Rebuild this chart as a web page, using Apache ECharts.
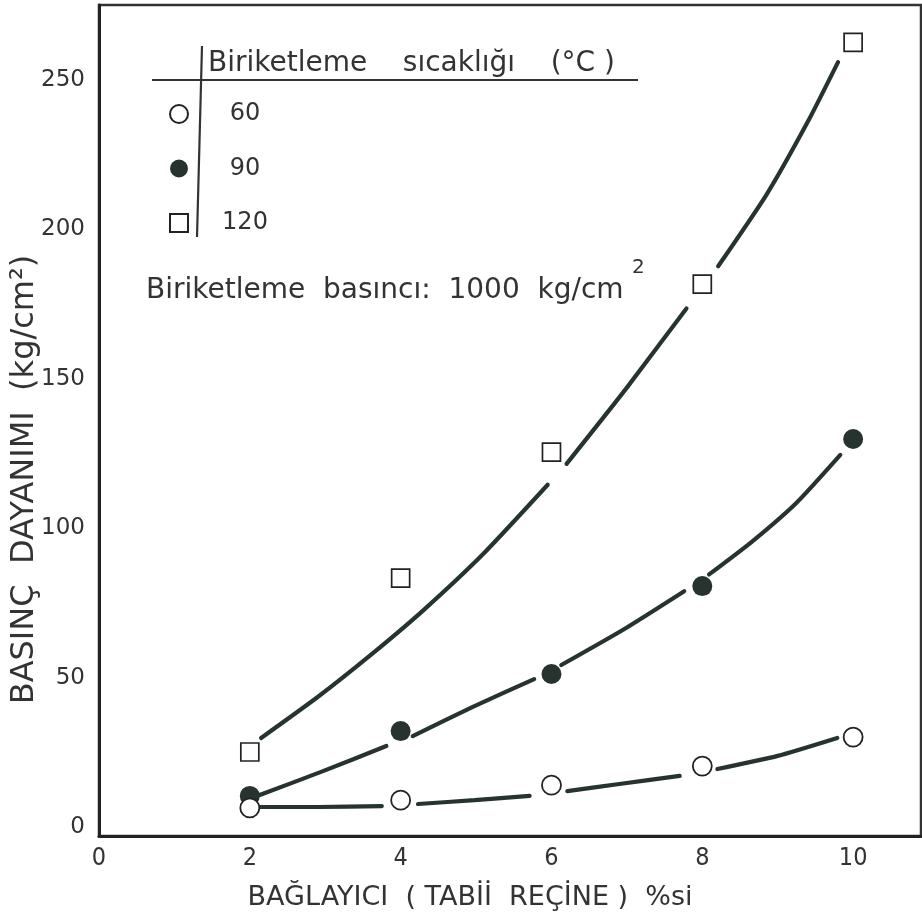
<!DOCTYPE html>
<html>
<head>
<meta charset="utf-8">
<script src="https://cdn.jsdelivr.net/npm/echarts@6/dist/echarts.min.js"></script>
<style>
html,body{margin:0;padding:0;background:#fff;}
#chart{width:922px;height:912px;}
</style>
</head>
<body>
<div id="chart"></div>
<script>
// ---- data ----
const binderPct = [2, 4, 6, 8, 10];                 // BAĞLAYICI %si
const strength60  = [6.4, 9.0, 14.0, 20.4, 30.1];    // 60 °C
const strength90  = [10.4, 32.1, 51.2, 80.6, 129.8]; // 90 °C
const strength120 = [25.1, 83.3, 125.4, 181.6, 262.5]; // 120 °C

// hand-drawn fitted curves (segments separated by null = gap near markers)
const fit60X  = [2.13, 2.9, 3.75, null, 4.23, 4.98, 5.71, null, 6.21, 6.9, 7.7, null, 8.2, 9.0, 9.79];
const fit60Y  = [6.7, 6.7, 7.0, null, 7.7, 9.0, 10.4, null, 12.0, 14.4, 17.1, null, 19.4, 23.8, 29.8];
const fit90X  = [2.13, 2.97, 3.81, null, 4.16, 4.95, 5.77, null, 6.13, 6.95, 7.76, null, 8.09, 8.66, 9.25, 9.83];
const fit90Y  = [10.7, 18.7, 27.1, null, 30.4, 40.1, 49.5, null, 54.2, 66.0, 78.9, null, 84.5, 95.5, 108.5, 124.5];
const fit120X = [2.15, 2.9, 3.6, 4.3, 5.1, 5.95, null, 6.2, 7.0, 7.79, null, 8.21, 8.85, 9.4, 9.80];
const fit120Y = [29.8, 43.5, 57.5, 72.5, 91.5, 114.5, null, 121.5, 147.0, 173.5, null, 187.6, 211.5, 236.0, 255.9];

const xTicks = [0, 2, 4, 6, 8, 10];
const yTicks = [0, 50, 100, 150, 200, 250];
const seriesNames = ['60', '90', '120'];

const xTitle = 'BAĞLAYICI  ( TABİİ  REÇİNE )  %si';
const yTitle = 'BASINÇ  DAYANIMI  (kg/cm²)';
const legendTitle = 'Biriketleme    sıcaklığı    (°C )';
const noteText = 'Biriketleme  basıncı:  1000  kg/cm';

// ---- build ----
const INK = '#26332f';
const FONT = '"DejaVu Sans", sans-serif';

function pairs(xs, ys) {
  return xs.map((x, i) => (x === null ? ['-', '-'] : [x, ys[i]]));
}
function pts(ys) { return binderPct.map((x, i) => [x, ys[i]]); }

const chart = echarts.init(document.getElementById('chart'), null, {renderer: 'canvas'});

const curveStyle = {color: INK, width: 4.2, cap: 'round'};

const option = {
  backgroundColor: '#ffffff',
  animation: false,
  grid: {left: 99, right: 1, top: 5, bottom: 76, containLabel: false, outerBoundsMode: 'none',
    show: true, borderColor: '#333', borderWidth: 2.5, backgroundColor: 'transparent'},
  xAxis: {
    type: 'value', min: 0, max: 10.9,
    axisLine: {show: true, onZero: false, lineStyle: {color: '#222', width: 3}},
    axisTick: {show: false},
    splitLine: {show: false},
    axisLabel: {customValues: xTicks, margin: 10, fontSize: 25, color: '#333', fontFamily: '"DejaVu Sans Condensed", "DejaVu Sans", sans-serif'},
    name: xTitle, nameLocation: 'middle', nameGap: 48, nameMoveOverlap: false,
    nameTextStyle: {fontSize: 27, color: '#333', fontFamily: FONT, padding: [0, 80, 0, 0]}
  },
  yAxis: {
    type: 'value', min: -3, max: 275,
    axisLine: {show: true, onZero: false, lineStyle: {color: '#222', width: 3}},
    axisTick: {show: false},
    splitLine: {show: false},
    axisLabel: {customValues: yTicks, margin: 14, fontSize: 23, color: '#333', fontFamily: FONT},
    name: yTitle, nameLocation: 'middle', nameGap: 58, nameMoveOverlap: false,
    nameTextStyle: {fontSize: 32, color: '#333', fontFamily: FONT, padding: [0, 118, 0, 0]}
  },
  legend: {
    data: seriesNames,
    orient: 'vertical', left: 164, top: 97, itemWidth: 18, itemHeight: 18, itemGap: 30.5,
    selectedMode: false,
    formatter: '{n|{name}}',
    textStyle: {color: '#333', fontFamily: FONT, fontSize: 24,
      rich: {n: {width: 52, align: 'center', fontSize: 24, fontFamily: FONT, color: '#333', padding: [0, 0, 0, 26]}}}
  },
  graphic: [
    {type: 'text', left: 208, top: 50, style: {text: legendTitle, font: '28px ' + FONT, fill: '#333'}},
    {type: 'line', shape: {x1: 152, y1: 80, x2: 638, y2: 80}, style: {stroke: '#333', lineWidth: 2}},
    {type: 'line', shape: {x1: 202, y1: 46, x2: 197, y2: 237}, style: {stroke: '#333', lineWidth: 2.2}},
    {type: 'text', left: 146, top: 277, style: {text: noteText, font: '28px ' + FONT, fill: '#333'}},
    {type: 'text', left: 632, top: 258, style: {text: '2', font: '20px ' + FONT, fill: '#333'}}
  ],
  series: [
    {name: 'fit-60', type: 'line', data: pairs(fit60X, fit60Y), smooth: 0.2, showSymbol: false, connectNulls: false, lineStyle: curveStyle, z: 2, silent: true},
    {name: 'fit-90', type: 'line', data: pairs(fit90X, fit90Y), smooth: 0.2, showSymbol: false, connectNulls: false, lineStyle: curveStyle, z: 2, silent: true},
    {name: 'fit-120', type: 'line', data: pairs(fit120X, fit120Y), smooth: 0.2, showSymbol: false, connectNulls: false, lineStyle: curveStyle, z: 2, silent: true},
    {name: '90', type: 'scatter', data: pts(strength90), symbol: 'circle', symbolSize: 20,
      itemStyle: {color: INK, borderColor: INK, borderWidth: 0, opacity: 1}, z: 3},
    {name: '120', type: 'scatter', data: pts(strength120), symbol: 'rect', symbolSize: 18,
      itemStyle: {color: '#fff', borderColor: '#222', borderWidth: 1.7, opacity: 1}, z: 4},
    {name: '60', type: 'scatter', data: pts(strength60), symbol: 'circle', symbolSize: 19,
      itemStyle: {color: '#fff', borderColor: '#222', borderWidth: 1.8, opacity: 1}, z: 5}
  ]
};
chart.setOption(option);
</script>
</body>
</html>
